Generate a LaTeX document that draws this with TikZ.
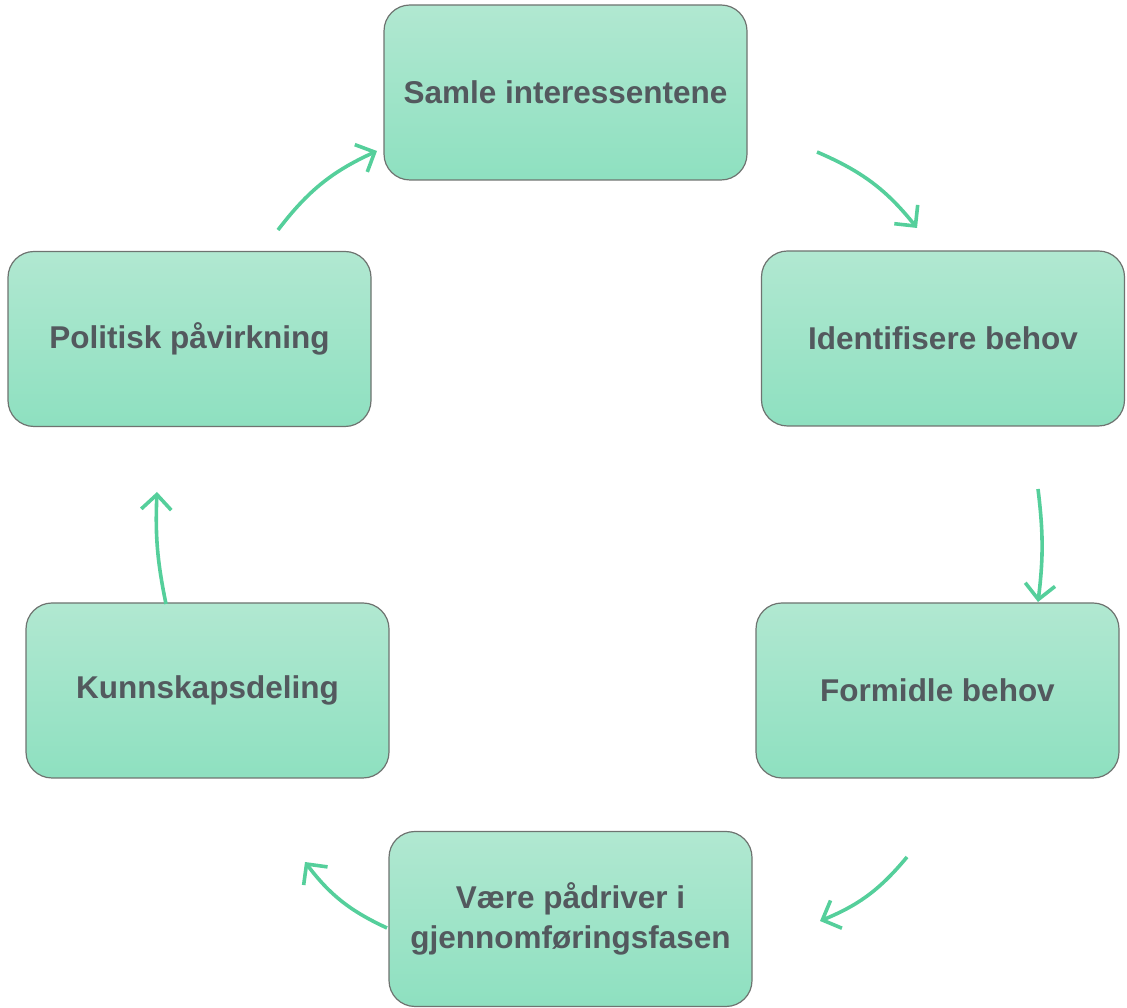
\documentclass[tikz,border=0pt]{standalone}
\usepackage{fontspec}
\setmainfont{Liberation Sans}
\usetikzlibrary{arrows.meta, positioning}

\definecolor{boxtop}{HTML}{B1E8D1}
\definecolor{boxbot}{HTML}{8EE0C0}
\definecolor{boxline}{HTML}{6E7370}
\definecolor{txtgrey}{HTML}{53595E}
\definecolor{arrowgreen}{HTML}{55CF9B}

\tikzset{
  stepbox/.style={draw=boxline, line width=1.2pt, rounded corners=26pt,
    top color=boxtop, bottom color=boxbot,
    minimum width=363pt, minimum height=175pt, align=center,
    text=txtgrey, font=\fontsize{31.5}{40}\selectfont\bfseries},
  cyclearrow/.style={draw=arrowgreen, line width=3.6pt,
    -{Straight Barb[length=15pt, width=30pt, line width=3.6pt]}, bend left=14}
}

\begin{document}
\begin{tikzpicture}[x=1pt, y=1pt]
	     \useasboundingbox (0,0) rectangle (1127,1008);
	     % nodes %
		 \node[stepbox] (samle) at (565.5,915.5) {Samle interessentene};
		 \node[stepbox] (ident) at (943,669.5) {Identifisere behov};
		 \node[stepbox] (formidle) at (937.5,317.5) {Formidle behov};
		 \node[stepbox] (vaere) at (570.5,89) {Være pådriver i\\gjennomføringsfasen};
		 \node[stepbox] (kunnskap) at (207.5,317.5) {Kunnskapsdeling};
		 \node[stepbox] (politisk) at (189.5,669) {Politisk påvirkning};

		 % arrow ends %
		 \coordinate (a1s) at (278,778);  \coordinate (a1e) at (377,857);
		 \coordinate (a2s) at (817,856);  \coordinate (a2e) at (917,780);
		 \coordinate (a3s) at (1038,519); \coordinate (a3e) at (1038,406);
		 \coordinate (a4s) at (907,151);  \coordinate (a4e) at (820,87);
		 \coordinate (a5s) at (387,80);   \coordinate (a5e) at (305,146);
		 \coordinate (a6s) at (166,404);  \coordinate (a6e) at (157,516);

		 % edges %
		 \draw[cyclearrow] (a1s) to (a1e);
		 \draw[cyclearrow] (a2s) to (a2e);
		 \draw[cyclearrow, bend left=7] (a3s) to (a3e);
		 \draw[cyclearrow] (a4s) to (a4e);
		 \draw[cyclearrow] (a5s) to (a5e);
		 \draw[cyclearrow, bend left=7] (a6s) to (a6e);
	     \end{tikzpicture}
\end{document}
